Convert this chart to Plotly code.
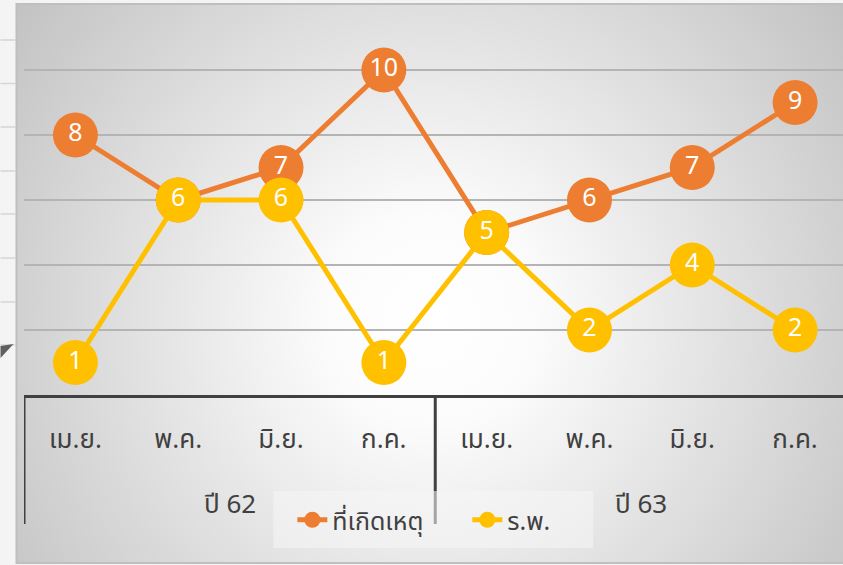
import base64
import plotly.graph_objects as go

months = ["เม.ย.", "พ.ค.", "มิ.ย.", "ก.ค.", "เม.ย.", "พ.ค.", "มิ.ย.", "ก.ค."]
years = ["ปี 62", "ปี 63"]
year_spans = [(0, 3), (4, 7)]
scene_vals = [8, 6, 7, 10, 5, 6, 7, 9]      # ที่เกิดเหตุ
hosp_vals = [1, 6, 6, 1, 5, 2, 4, 2]        # ร.พ.
series_names = ["ที่เกิดเหตุ", "ร.พ."]

W, H = 843, 565
L, R, T, B = 23.5, 843, 5, 395
pw, ph = R - L, B - T


def px_x(p):
    return (p - L) / pw


def px_y(p):
    return (B - p) / ph


FONT = "Leelawadee UI, Noto Sans Thai, Tahoma, Noto Sans, sans-serif"
ORANGE = "#ED7D31"
YELLOW = "#FFC000"
DARK = "#404040"

xs = list(range(len(months)))

# background radial gradient (style only)
gw, gh = 827, 559
svg = f'''<svg xmlns="http://www.w3.org/2000/svg" width="{gw}" height="{gh}" viewBox="0 0 {gw} {gh}" preserveAspectRatio="none">
<defs><radialGradient id="g" gradientUnits="userSpaceOnUse" cx="415" cy="315" r="560">
<stop offset="0" stop-color="#ffffff"/><stop offset="0.18" stop-color="#fcfcfc"/>
<stop offset="1" stop-color="#bdbdbd"/></radialGradient></defs>
<rect width="{gw}" height="{gh}" fill="url(#g)"/></svg>'''
src = "data:image/svg+xml;base64," + base64.b64encode(svg.encode()).decode()

fig = go.Figure()
for vals, name, col in [(scene_vals, series_names[0], ORANGE), (hosp_vals, series_names[1], YELLOW)]:
    fig.add_trace(go.Scatter(
        x=xs, y=vals, name=name, mode="lines+markers+text",
        line=dict(color=col, width=5),
        marker=dict(color=col, size=45, line=dict(width=0)),
        text=[str(v) for v in vals], textposition="middle center",
        textfont=dict(color="white", size=25, family=FONT),
        cliponaxis=False,
    ))

shapes = []
# left spreadsheet strip lines
for yy in [40, 83.5, 127, 171, 214, 258, 302, 345]:
    shapes.append(dict(type="line", xref="paper", yref="paper",
                       x0=px_x(0), x1=px_x(15), y0=px_y(yy), y1=px_y(yy),
                       line=dict(color="#d6d6d6", width=1.5), layer="below"))
shapes.append(dict(type="path", xref="paper", yref="paper",
                   path=f"M {px_x(0)},{px_y(346)} L {px_x(13)},{px_y(344)} L {px_x(0)},{px_y(358)} Z",
                   fillcolor="#606060", line=dict(width=0), layer="below"))
# chart frame
shapes.append(dict(type="rect", xref="paper", yref="paper",
                   x0=px_x(16), x1=px_x(845), y0=px_y(4), y1=px_y(563),
                   line=dict(color="#bfbfbf", width=2), fillcolor="rgba(0,0,0,0)", layer="below"))
# category group dividers
for a, b in year_spans:
    shapes.append(dict(type="line", xref="x", yref="paper", x0=a - 0.5, x1=a - 0.5,
                       y0=0, y1=px_y(524), line=dict(color=DARK, width=3), layer="above"))
# legend backdrop
shapes.append(dict(type="rect", xref="paper", yref="paper",
                   x0=px_x(273), x1=px_x(593), y0=px_y(491), y1=px_y(548),
                   line=dict(width=0), fillcolor="rgba(245,245,245,0.55)", layer="above"))

annotations = []
for (a, b), yr in zip(year_spans, years):
    annotations.append(dict(x=(a + b) / 2, xref="x", y=px_y(505), yref="paper",
                            text=yr, showarrow=False, yanchor="middle",
                            font=dict(size=26, color=DARK, family=FONT)))

fig.update_layout(
    width=W, height=H,
    margin=dict(l=L, r=W - R, t=T, b=H - B, pad=0),
    paper_bgcolor="#f4f4f4", plot_bgcolor="rgba(0,0,0,0)",
    images=[dict(source=src, xref="paper", yref="paper", x=px_x(16), y=px_y(4),
                 sizex=gw / pw, sizey=gh / ph, xanchor="left", yanchor="top",
                 sizing="stretch", layer="below")],
    xaxis=dict(range=[-0.5, 7.5 - 3.5 / 102.9], tickvals=xs, ticktext=months,
               showgrid=False, zeroline=False, showline=True, linecolor=DARK, linewidth=3,
               ticks="outside", ticklen=19, tickcolor="rgba(0,0,0,0)",
               tickfont=dict(size=26, color=DARK, family=FONT)),
    yaxis=dict(range=[0, 12], dtick=2, showgrid=True, gridcolor="#b4b4b4", gridwidth=1.5,
               showticklabels=False, zeroline=False, showline=False, ticks=""),
    showlegend=True,
    legend=dict(orientation="h", x=px_x(292), xanchor="left", y=px_y(520), yanchor="middle",
                bgcolor="rgba(0,0,0,0)", font=dict(size=25, color=DARK, family=FONT),
                itemsizing="trace", traceorder="normal",
                entrywidth=130, entrywidthmode="pixels"),
    shapes=shapes, annotations=annotations,
)

fig.write_html("out.html", config={"displayModeBar": False},
               post_script="document.body.style.margin='0';document.body.style.padding='0';")
